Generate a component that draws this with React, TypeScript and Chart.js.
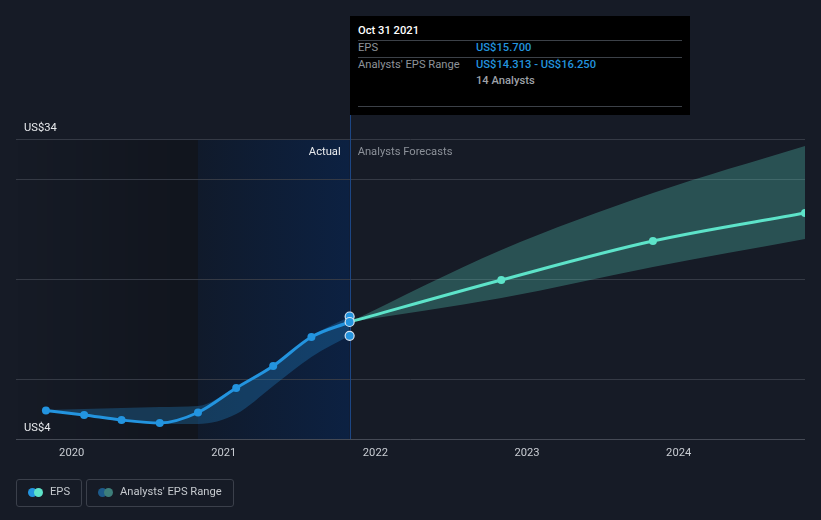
import React, { useEffect, useRef } from 'react';
import { Chart, registerables } from 'chart.js';

Chart.register(...registerables);

// ---- data ----
const histDates = ['2019-10-31', '2020-01-31', '2020-04-30', '2020-07-31', '2020-10-31', '2021-01-31', '2021-04-30', '2021-07-31', '2021-10-31'];
const histEps = [6.85, 6.4, 5.9, 5.6, 6.65, 9.1, 11.3, 14.2, 15.7];
const histLow = [6.8, 6.3, 5.8, 5.5, 5.5, 6.5, 9.3, 12.2, 14.313];
const histHigh = [6.9, 7.0, 7.1, 7.2, 7.3, 9.2, 11.4, 14.3, 16.25];

const fcDates = ['2021-10-31', '2022-10-31', '2023-10-31', '2024-10-31'];
const fcEps = [15.7, 19.9, 23.8, 26.6];
const fcLow = [15.7, 18.1, 21.2, 24.0];
const fcHigh = [15.7, 22.9, 28.6, 33.3];

const nowDate = '2021-10-31';
const nowValues = [16.25, 15.7, 14.313];
const pastYearStart = '2020-10-31';

const xMinDate = '2019-08-20';
const xMaxDate = '2024-10-31';
const xTickYears = [2020, 2021, 2022, 2023, 2024];
const yMin = 4;
const yMax = 34;
const yGridValues = [4, 10, 20, 30, 34];
const yLabelValues = [34, 4];

const t = (d: string) => Date.parse(d + 'T00:00:00Z');
const pts = (dates: string[], vals: number[]) => dates.map((d, i) => ({ x: t(d), y: vals[i] }));

const BLUE = '#2394df';
const TEAL = '#5de3c9';
const FONT = 'Roboto, "Open Sans", Arial, sans-serif';
const FS = 11.2;

const regionsPlugin = {
  id: 'regions',
  beforeDraw(chart: any) {
    const { ctx, chartArea: a, scales } = chart;
    const x = scales.x;
    const xs = x.getPixelForValue(t(pastYearStart));
    const xe = x.getPixelForValue(t(nowDate));
    ctx.save();
    let g = ctx.createLinearGradient(a.left, 0, xs, 0);
    g.addColorStop(0, 'rgba(0,0,0,0)');
    g.addColorStop(1, 'rgba(0,0,0,0.22)');
    ctx.fillStyle = g;
    ctx.fillRect(a.left, a.top, xs - a.left, a.bottom - a.top);
    g = ctx.createLinearGradient(xs, 0, xe, 0);
    g.addColorStop(0, '#101a2b');
    g.addColorStop(1, '#0c2142');
    ctx.fillStyle = g;
    ctx.fillRect(xs, a.top, xe - xs, a.bottom - a.top);
    ctx.restore();
  },
  beforeDatasetsDraw(chart: any) {
    const { ctx, chartArea: a } = chart;
    const xe = Math.round(chart.scales.x.getPixelForValue(t(nowDate))) + 0.5;
    ctx.save();
    ctx.strokeStyle = '#1c4684';
    ctx.lineWidth = 1;
    ctx.beginPath();
    ctx.moveTo(xe, 115);
    ctx.lineTo(xe, a.bottom);
    ctx.stroke();
    ctx.restore();
  },
  afterDraw(chart: any) {
    const { ctx, chartArea: a, scales } = chart;
    const y = scales.y;
    const xe = chart.scales.x.getPixelForValue(t(nowDate));
    ctx.save();
    ctx.font = `${FS}px ${FONT}`;
    ctx.textBaseline = 'middle';
    ctx.fillStyle = '#e8eaed';
    ctx.textAlign = 'left';
    yLabelValues.forEach((v) => {
      ctx.fillText(`US$${v}`, a.left + 8, y.getPixelForValue(v) - 11);
    });
    ctx.textAlign = 'right';
    ctx.fillStyle = '#e8eaed';
    ctx.fillText('Actual', xe - 9, a.top + 13);
    ctx.textAlign = 'left';
    ctx.fillStyle = '#8c9199';
    ctx.fillText('Analysts Forecasts', xe + 8, a.top + 13);
    ctx.restore();
  },
};

function Tooltip() {
  const row: React.CSSProperties = { position: 'absolute', left: 8, fontSize: FS, lineHeight: '14px', whiteSpace: 'nowrap' };
  const sep = (top: number): React.CSSProperties => ({ position: 'absolute', left: 8, width: 324, top, height: 1, background: '#3c4148' });
  return (
    <div style={{ position: 'absolute', left: 350, top: 16, width: 340, height: 99, background: '#000', fontFamily: FONT }}>
      <div style={{ ...row, top: 8, color: '#fff', fontWeight: 500 }}>Oct 31 2021</div>
      <div style={sep(24)} />
      <div style={{ ...row, top: 25, color: '#8e939a' }}>EPS</div>
      <div style={{ ...row, left: 126, top: 25, color: BLUE, fontWeight: 500 }}>US$15.700</div>
      <div style={sep(41)} />
      <div style={{ ...row, top: 42, color: '#8e939a' }}>Analysts' EPS Range</div>
      <div style={{ ...row, left: 126, top: 42, color: BLUE, fontWeight: 500 }}>US$14.313 - US$16.250</div>
      <div style={{ ...row, left: 126, top: 58, color: '#9ea2a8', fontWeight: 500 }}>14 Analysts</div>
      <div style={sep(90)} />
    </div>
  );
}

function Legend() {
  const box: React.CSSProperties = {
    position: 'absolute', top: 479, height: 28, border: '1px solid #3b404b', borderRadius: 3,
    boxSizing: 'border-box', fontFamily: FONT, fontSize: FS, color: '#c5c9ce',
  };
  const dot = (left: number, color: string): React.CSSProperties => ({
    position: 'absolute', left, top: 8, width: 9, height: 9, borderRadius: '50%', background: color,
  });
  return (
    <>
      <div style={{ ...box, left: 16, width: 66 }}>
        <div style={dot(11, BLUE)} />
        <div style={dot(17, TEAL)} />
        <div style={{ position: 'absolute', left: 33, top: 5, lineHeight: '14px' }}>EPS</div>
      </div>
      <div style={{ ...box, left: 86, width: 148 }}>
        <div style={dot(11, '#1d5a8a')} />
        <div style={dot(17, '#3d7e7a')} />
        <div style={{ position: 'absolute', left: 33, top: 5, lineHeight: '14px' }}>Analysts' EPS Range</div>
      </div>
    </>
  );
}

export default function App() {
  const ref = useRef<HTMLCanvasElement>(null);
  useEffect(() => {
    document.body.style.margin = '0';
    document.body.style.background = '#161b26';
    const canvas = ref.current!;
    Chart.defaults.font.family = FONT;
    const chart = new Chart(canvas, {
      type: 'line',
      data: {
        datasets: [
          {
            data: pts([nowDate, nowDate, nowDate], nowValues),
            showLine: false,
            pointRadius: 4.5,
            pointBackgroundColor: BLUE,
            pointBorderColor: '#d6e4f2',
            pointBorderWidth: 1.2,
            order: 1,
          } as any,
          {
            data: pts(histDates, histEps),
            borderColor: BLUE,
            borderWidth: 3,
            pointRadius: 4,
            pointBackgroundColor: BLUE,
            pointBorderWidth: 0,
            cubicInterpolationMode: 'monotone',
            order: 2,
          },
          {
            data: pts(fcDates, fcEps),
            borderColor: TEAL,
            borderWidth: 3,
            pointRadius: [0, 4, 4, 4],
            pointBackgroundColor: TEAL,
            pointBorderWidth: 0,
            cubicInterpolationMode: 'monotone',
            order: 3,
          },
          {
            data: pts(histDates, histHigh),
            borderWidth: 0,
            pointRadius: 0,
            cubicInterpolationMode: 'monotone',
            fill: false,
            order: 5,
          },
          {
            data: pts(histDates, histLow),
            borderWidth: 0,
            pointRadius: 0,
            cubicInterpolationMode: 'monotone',
            fill: '-1',
            backgroundColor: 'rgba(35,148,223,0.28)',
            order: 5,
          },
          {
            data: pts(fcDates, fcHigh),
            borderWidth: 0,
            pointRadius: 0,
            cubicInterpolationMode: 'monotone',
            fill: false,
            order: 5,
          },
          {
            data: pts(fcDates, fcLow),
            borderWidth: 0,
            pointRadius: 0,
            cubicInterpolationMode: 'monotone',
            fill: '-1',
            backgroundColor: 'rgba(93,224,200,0.28)',
            order: 5,
          },
        ],
      },
      options: {
        animation: false,
        responsive: false,
        devicePixelRatio: 1,
        layout: { padding: { top: 139, left: 16, right: 16, bottom: 0 } },
        plugins: { legend: { display: false }, tooltip: { enabled: false } },
        events: [],
        scales: {
          x: {
            type: 'linear',
            min: t(xMinDate),
            max: t(xMaxDate),
            afterBuildTicks: (s: any) => {
              s.ticks = xTickYears.map((yr) => ({ value: Date.UTC(yr, 0, 1) }));
            },
            afterFit: (s: any) => { s.height = 81; },
            ticks: {
              callback: (v: any) => String(new Date(v).getUTCFullYear()),
              color: '#c9cdd3',
              font: { size: FS, family: FONT },
              padding: 7,
              maxRotation: 0,
              autoSkip: false,
            },
            grid: { display: false, drawTicks: false },
            border: { display: false },
          },
          y: {
            type: 'linear',
            min: yMin,
            max: yMax,
            afterBuildTicks: (s: any) => {
              s.ticks = yGridValues.map((v) => ({ value: v }));
            },
            afterFit: (s: any) => { s.width = 0; },
            ticks: { display: false },
            grid: {
              color: (c: any) => (c.tick && c.tick.value === yMin ? '#454a55' : '#353a45'),
              drawTicks: false,
            },
            border: { display: false },
          },
        },
      },
      plugins: [regionsPlugin],
    } as any);
    return () => chart.destroy();
  }, []);
  return (
    <div style={{ position: 'fixed', left: 0, top: 0, width: 821, height: 520, background: '#161b26' }}>
      <canvas ref={ref} width={821} height={520} style={{ position: 'absolute', left: 0, top: 0 }} />
      <Tooltip />
      <Legend />
    </div>
  );
}
